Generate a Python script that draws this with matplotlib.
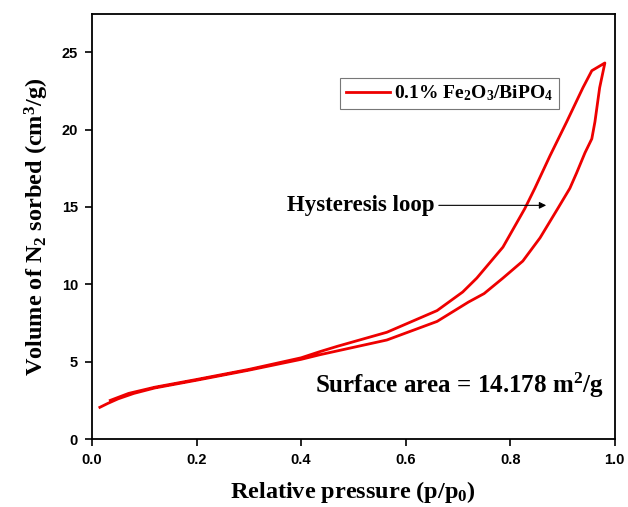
import numpy as np
import matplotlib
matplotlib.use("Agg")
import matplotlib.pyplot as plt

# adsorption branch (lower curve)
p_ads = [0.015, 0.03, 0.05, 0.08, 0.12, 0.2, 0.3, 0.4, 0.436, 0.564, 0.66,
         0.72, 0.75, 0.786, 0.824, 0.857, 0.891, 0.914, 0.927, 0.943, 0.956,
         0.962, 0.971, 0.981]
v_ads = [2.05, 2.3, 2.6, 2.95, 3.3, 3.8, 4.45, 5.15, 5.45, 6.4, 7.6,
         8.85, 9.4, 10.4, 11.5, 13.0, 14.9, 16.2, 17.2, 18.5, 19.4,
         20.5, 22.7, 24.3]
# desorption branch (upper curve)
p_des = [0.981, 0.956, 0.939, 0.908, 0.876, 0.847, 0.828, 0.786, 0.761,
         0.736, 0.709, 0.66, 0.564, 0.47, 0.436, 0.4, 0.3, 0.2, 0.12, 0.07,
         0.035]
v_des = [24.3, 23.8, 22.7, 20.5, 18.3, 16.2, 14.9, 12.4, 11.4,
         10.4, 9.5, 8.3, 6.9, 6.0, 5.65, 5.25, 4.5, 3.85, 3.35, 2.95,
         2.5]

xticks = [0.0, 0.2, 0.4, 0.6, 0.8, 1.0]
yticks = [0, 5, 10, 15, 20, 25]

plt.rcParams['mathtext.fontset'] = 'custom'
plt.rcParams['mathtext.rm'] = 'Liberation Serif:bold'
plt.rcParams['mathtext.it'] = 'Liberation Serif:bold'
plt.rcParams['mathtext.bf'] = 'Liberation Serif:bold'

fig = plt.figure(figsize=(6.28, 5.07), dpi=100)
ax = fig.add_axes([0.1465, 0.134, 0.8325, 0.838])

x = np.array(p_ads + p_des)
y = np.array(v_ads + v_des)
ax.plot(x, y, color='#ee0000', lw=2, label='0.1% Fe$_2$O$_3$/BiPO$_4$')

ax.set_xlim(0, 1.0)
ax.set_ylim(0, 27.45)
ax.set_xticks(xticks)
ax.set_xticklabels(['%.1f' % t for t in xticks])
ax.set_yticks(yticks)
ax.tick_params(direction='out', length=5, width=1.2, labelsize=10.5, pad=5)
for lab in ax.get_xticklabels() + ax.get_yticklabels():
    lab.set_family('Liberation Sans')
    lab.set_weight('bold')
for s in ax.spines.values():
    s.set_linewidth(1.3)

ax.set_xlabel('Relative pressure (p/p$_0$)', family='Liberation Serif',
              weight='bold', fontsize=17.5, labelpad=9)
ax.set_ylabel('Volume of N$_2$ sorbed (cm$^3$/g)', family='Liberation Serif',
              weight='bold', fontsize=17.5, labelpad=8)

leg = ax.legend(loc='upper left', bbox_to_anchor=(0.474, 0.85),
                prop={'family': 'Liberation Serif', 'weight': 'bold', 'size': 14},
                fancybox=False, handlelength=2.3, borderpad=0.3,
                handletextpad=0.2, borderaxespad=0)
leg.get_frame().set_edgecolor('#555555')
leg.get_frame().set_linewidth(0.8)

ax.annotate('', xy=(0.874, 15.1), xytext=(0.658, 15.1),
            arrowprops=dict(arrowstyle='-|>', color='black', lw=0.8,
                            mutation_scale=10))
ax.text(0.655, 15.1, 'Hysteresis loop', ha='right', va='center',
        family='Liberation Serif', weight='bold', fontsize=16.5)
ax.text(0.979, 3.5, 'Surface area = 14.178 m$^2$/g', ha='right', va='center',
        family='Liberation Serif', weight='bold', fontsize=18)

fig.savefig('out.png', dpi=100)
